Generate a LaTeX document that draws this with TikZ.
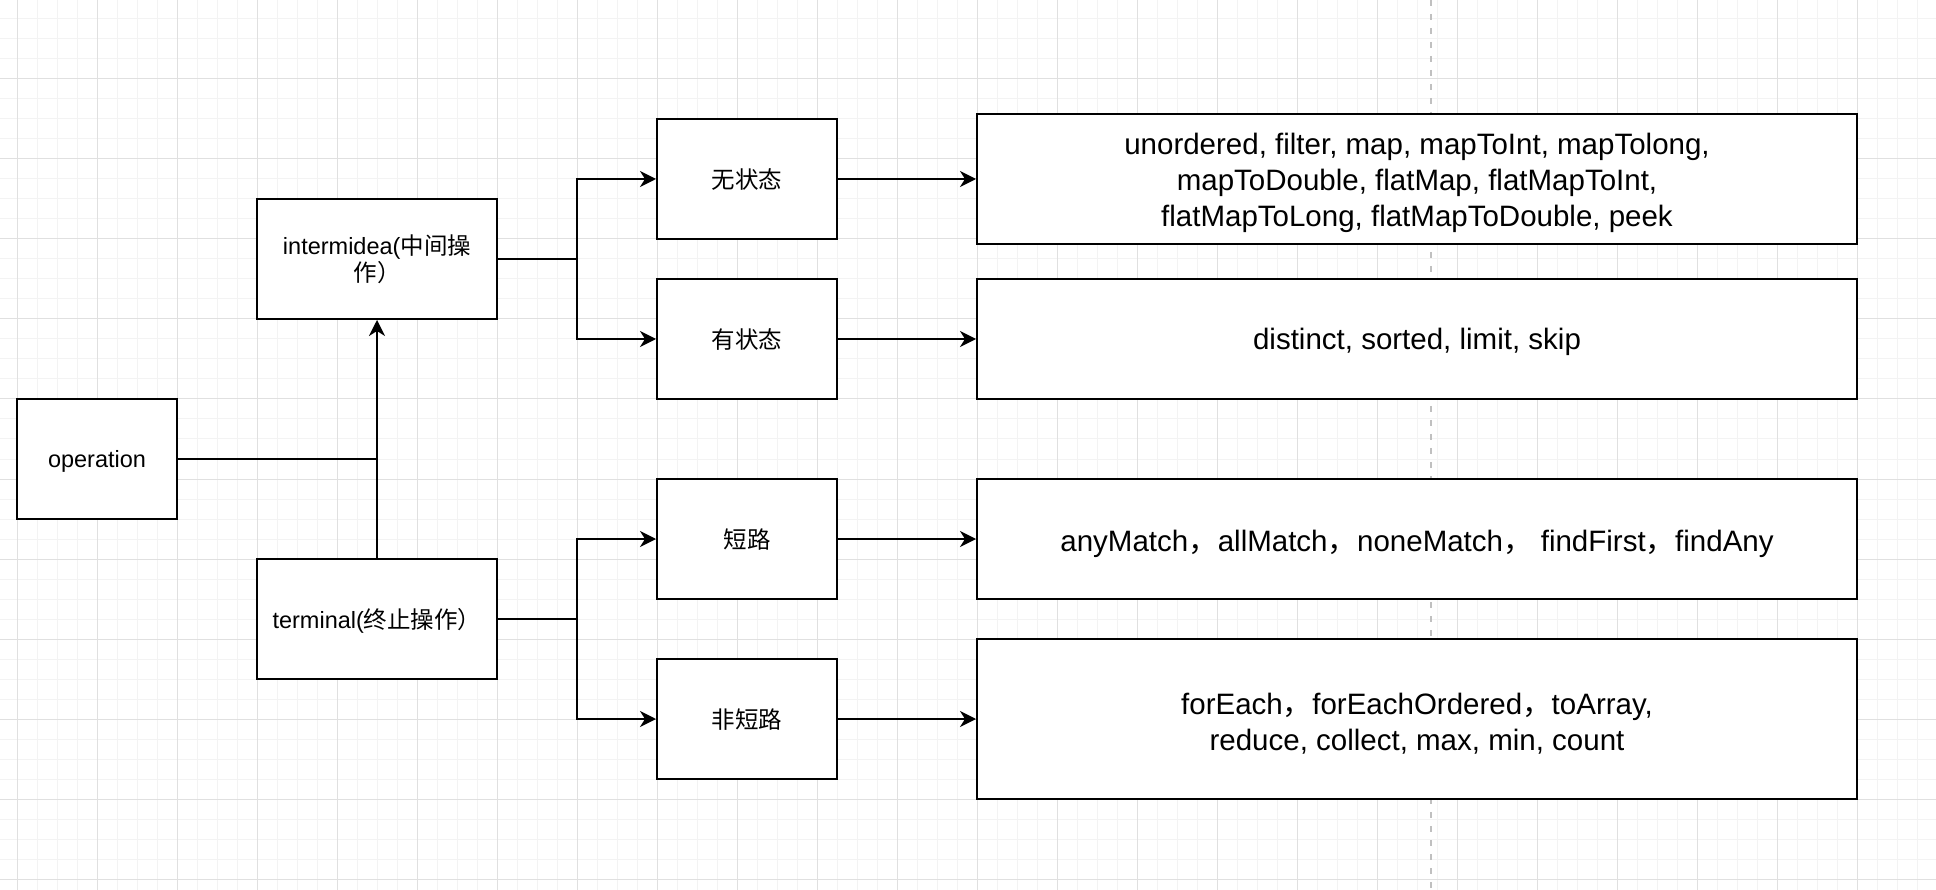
\documentclass[tikz,border=0pt]{standalone}
\usepackage{fontspec}
\setmainfont{Liberation Sans}
\newfontfamily\cjk{Noto Sans CJK SC}
\usetikzlibrary{arrows.meta}
\definecolor{gridminor}{RGB}{243,243,243}
\definecolor{gridmajor}{RGB}{224,224,224}
\definecolor{pagebreak}{RGB}{192,192,192}
\begin{document}
\begin{tikzpicture}[x=1pt,y=-1pt,
  box/.style={draw=black, line width=2pt, fill=white, inner sep=0pt, align=center,
    font=\fontsize{23.5pt}{27pt}\selectfont},
  smallbox/.style={box, minimum width=180pt, minimum height=120pt, text height=19pt, text depth=0pt},
  bigbox/.style={box, minimum width=880pt, font=\fontsize{29.5pt}{36pt}\selectfont},
  conn/.style={line width=2pt, draw=black},
  arr/.style={conn, -{Stealth[length=16pt,width=16pt,inset=5pt]}},
  minorline/.style={draw=gridminor, line width=1pt},
  majorline/.style={draw=gridmajor, line width=1pt},
]
\fill[white] (0,0) rectangle (1936,890);
\useasboundingbox (0,0) rectangle (1936,890);
% grid
\foreach \x in {-3,17,...,1937} \draw[minorline] (\x,0) -- (\x,890);
\foreach \y in {-1,19,...,899} \draw[minorline] (0,\y) -- (1936,\y);
\foreach \x in {17,97,...,1937} \draw[majorline] (\x,0) -- (\x,890);
\foreach \y in {79,159,...,879} \draw[majorline] (0,\y) -- (1936,\y);
% page break line
\draw[draw=pagebreak, line width=2pt, dash pattern=on 6pt off 8pt] (1431,0) -- (1431,890);

% nodes
\node[box, minimum width=160pt, minimum height=120pt, text height=16.8pt, text depth=0pt]
  (op) at (97,459) {operation};
\node[box, minimum width=240pt, minimum height=120pt] (inter) at (377,259)
  {intermidea({\cjk 中间操}\\{\cjk 作）}};
\node[box, minimum width=240pt, minimum height=120pt, text height=19.2pt, text depth=0pt]
  (term) at (377,619) {terminal({\cjk 终止操作）}};

\node[smallbox] (s1) at (747,179) {\cjk 无状态};
\node[smallbox] (s2) at (747,339) {\cjk 有状态};
\node[smallbox] (s3) at (747,539) {\cjk 短路};
\node[smallbox] (s4) at (747,719) {\cjk 非短路};

\node[bigbox, minimum height=130pt, text height=95pt, text depth=0pt] (b1) at (1417,179)
  {unordered, filter, map, mapToInt, mapTolong,\\mapToDouble, flatMap, flatMapToInt,\\flatMapToLong, flatMapToDouble, peek};
\node[bigbox, minimum height=120pt, text height=21.6pt, text depth=0pt] (b2) at (1417,339)
  {distinct, sorted, limit, skip};
\node[bigbox, minimum height=120pt, text height=24pt, text depth=0pt] (b3) at (1417,539)
  {anyMatch{\cjk ，}allMatch{\cjk ，}noneMatch{\cjk ，} findFirst{\cjk ，}findAny};
\node[bigbox, minimum height=160pt, text height=62pt, text depth=0pt] (b4) at (1417,719)
  {forEach{\cjk ，}forEachOrdered{\cjk ，}toArray,\\reduce, collect, max, min, count};

% connectors
\coordinate (jop) at (377,459);
\coordinate (bi) at (577,259);
\coordinate (bt) at (577,619);
\draw[conn] (op.east) -- (jop);
\draw[arr] (term.north) -- (inter.south);
\draw[conn] (inter.east) -- (bi);
\draw[arr] (bi) |- (s1.west);
\draw[arr] (bi) |- (s2.west);
\draw[conn] (term.east) -- (bt);
\draw[arr] (bt) |- (s3.west);
\draw[arr] (bt) |- (s4.west);
\draw[arr] (s1.east) -- (b1.west);
\draw[arr] (s2.east) -- (b2.west);
\draw[arr] (s3.east) -- (b3.west);
\draw[arr] (s4.east) -- (b4.west);
\end{tikzpicture}
\end{document}
